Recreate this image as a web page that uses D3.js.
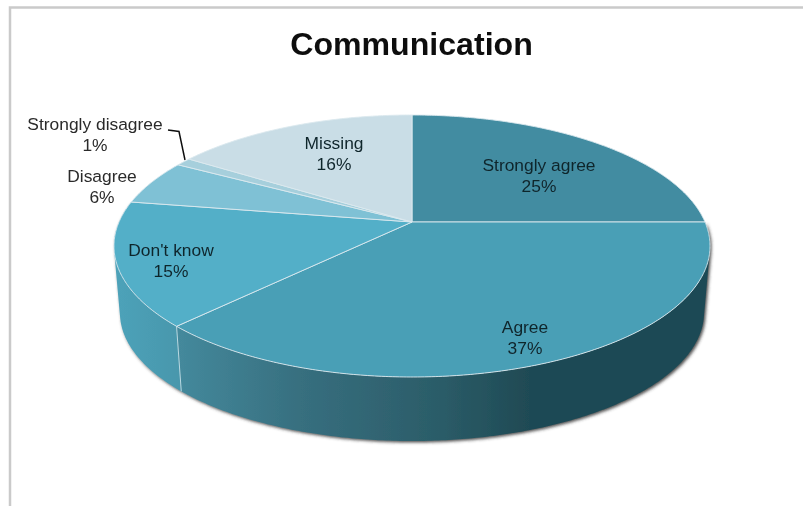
<!DOCTYPE html>
<html>
<head>
<meta charset="utf-8">
<script src="https://cdn.jsdelivr.net/npm/d3@7"></script>
<style>
  html, body { margin: 0; padding: 0; background: #fff; }
  svg { display: block; }
  text { font-family: "Liberation Sans", Arial, sans-serif; }
</style>
</head>
<body>
<svg id="chart"></svg>
<script>
const categories = ["Strongly agree", "Agree", "Don't know", "Disagree", "Strongly disagree", "Missing"];
// estimated from the slice edges, they round to the printed labels
const percents = [25, 37.3, 15.3, 5.6, 1.0, 15.8];
const sliceColors = ["#438ca1", "#4a9fb6", "#52afc8", "#7fc1d5", "#a6cfdc", "#c9dde6"];
const chartTitle = "Communication";

// label centres in px
const labelSpots = [[539, 176], [525, 338], [171, 261], [102, 187], [95, 135], [334, 154]];

const width = 803, height = 506;
const cx = 412, cy = 222;      // where the slices meet
const radiusX = 293;
const tilt = 0.1832;           // perspective of the disc
const lift = -85.93;
const wallScale = 0.98, wallDrop = 67.1;

const svg = d3.select("#chart").attr("width", width).attr("height", height);
const defs = svg.append("defs");

defs.append("filter").attr("id", "soft")
    .attr("x", "-5%").attr("y", "-5%").attr("width", "110%").attr("height", "115%")
  .append("feGaussianBlur").attr("stdDeviation", 0.5);

defs.append("filter").attr("id", "shadow")
    .attr("x", "-5%").attr("y", "-5%").attr("width", "110%").attr("height", "115%")
  .append("feDropShadow")
    .attr("dx", 1.5).attr("dy", 1.5).attr("stdDeviation", 1.6)
    .attr("flood-color", "#333").attr("flood-opacity", 0.85);

function addGradient(id, stops) {
  const g = defs.append("linearGradient").attr("id", id)
      .attr("gradientUnits", "userSpaceOnUse")
      .attr("x1", 117).attr("x2", 705).attr("y1", 0).attr("y2", 0);
  stops.forEach(s => g.append("stop").attr("offset", (s[0] - 117) / 588).attr("stop-color", s[1]));
}
addGradient("wallAgree", [[178, "#44899c"], [300, "#376f7f"], [440, "#2b5c68"], [530, "#1f4a54"], [705, "#1f4a54"]]);
addGradient("wallKnow", [[117, "#4da2b9"], [185, "#4896ab"]]);

// pie angle -> point on the top face
function topPoint(a) {
  const u = Math.sin(a), v = Math.cos(a);
  const d = 1 + tilt * v;
  return [cx + radiusX * u / d, (cy + lift * v) / d];
}
function lowPoint(a) {
  const p = topPoint(a);
  return [cx + wallScale * (p[0] - cx), cy + wallScale * (p[1] - cy) + wallDrop];
}
function samples(a0, a1) {
  const n = Math.max(2, Math.ceil((a1 - a0) / 0.01));
  return d3.range(n + 1).map(i => a0 + (a1 - a0) * i / n);
}

const arcs = d3.pie().sort(null).value(d => d)(percents);
const line = d3.line();

const root = svg.append("g").attr("filter", "url(#soft)");

// frame
root.append("path")
    .attr("d", line([[10, height], [10, 7.5], [width, 7.5]]))
    .attr("fill", "none").attr("stroke", "#cacaca").attr("stroke-width", 2.5);

root.append("text")
    .attr("transform", "translate(411.5,55) scale(1.02,1)")
    .attr("text-anchor", "middle")
    .attr("font-size", 31.5).attr("font-weight", "bold").attr("fill", "#111")
    .text(chartTitle);

// side walls, only the two slices that face the viewer
function wallPath(a0, a1) {
  const as = samples(a0, a1);
  return d3.pairs(as).map(([p, q]) => {
    const quad = [topPoint(p), topPoint(q), lowPoint(q), lowPoint(p)];
    if (d3.polygonArea(quad) < 0) quad.reverse();
    return line(quad) + "Z";
  }).join("");
}

const walls = root.append("g").attr("filter", "url(#shadow)");
walls.append("path")
    .attr("d", wallPath(arcs[1].startAngle, arcs[1].endAngle))
    .attr("fill", "url(#wallAgree)");
walls.append("path")
    .attr("d", wallPath(arcs[2].startAngle, arcs[2].endAngle))
    .attr("fill", "url(#wallKnow)");

root.append("path")
    .attr("d", line([topPoint(arcs[2].startAngle), lowPoint(arcs[2].startAngle)]))
    .attr("stroke", "#b9d9e2").attr("stroke-width", 1).attr("fill", "none");

// top face
root.append("g").selectAll("path")
  .data(arcs)
  .enter()
  .append("path")
    .attr("d", d => line([[cx, cy]].concat(samples(d.startAngle, d.endAngle).map(topPoint))) + "Z")
    .attr("fill", (d, i) => sliceColors[i])
    .attr("stroke", "#dbe9ee").attr("stroke-width", 0.9).attr("stroke-linejoin", "round");

// leader for the 1% slice
root.append("path")
    .attr("d", line([[168, 130], [179, 131.5], [185, 160]]))
    .attr("fill", "none").attr("stroke", "#111").attr("stroke-width", 1.5);

const labels = root.append("g").selectAll("text")
  .data(categories)
  .enter()
  .append("text")
    .attr("text-anchor", "middle")
    .attr("font-size", 16.5)
    .attr("fill", (d, i) => (i === 3 || i === 4) ? "#2a2a2a" : "#10252c")
    .attr("transform", (d, i) => `translate(${labelSpots[i][0]},${labelSpots[i][1]}) scale(1.055,1)`);

labels.append("tspan").attr("x", 0).attr("y", -5).text(d => d);
labels.append("tspan").attr("x", 0).attr("y", 16).text((d, i) => Math.round(percents[i]) + "%");
</script>
</body>
</html>
